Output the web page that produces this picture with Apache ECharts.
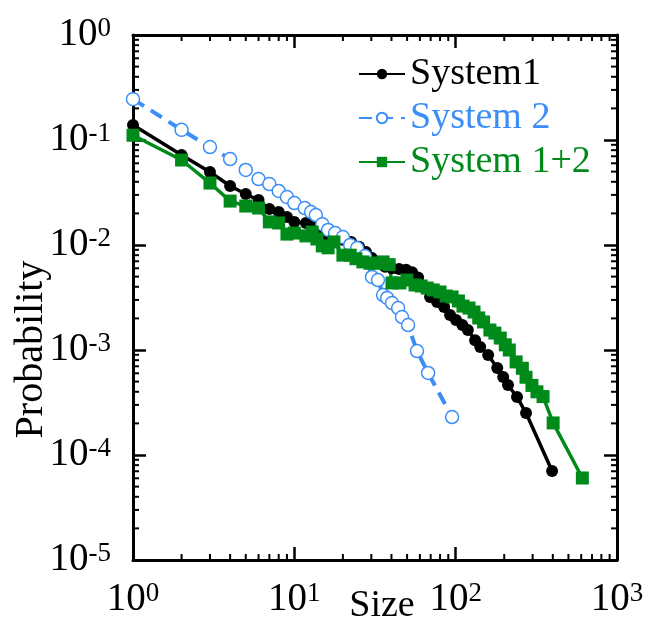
<!DOCTYPE html>
<html>
<head>
<meta charset="utf-8">
<script src="https://cdn.jsdelivr.net/npm/echarts@6/dist/echarts.min.js"></script>
<style>
  html, body { margin: 0; padding: 0; background: #fff; }
  #chart { width: 651px; height: 630px; }
</style>
</head>
<body>
<div id="chart"></div>
<script>
// Size distributions (log-log)
const sys1X = [1, 2, 3, 4, 5, 6, 7, 8, 9, 10, 11.8, 13.1, 14.4, 15.9, 17.9, 20.0, 22.5, 25.2, 27.8, 30.3, 33.5, 36.5, 40.3, 44.6, 49.3, 53.7, 58.5, 63.7, 69.4, 76.7, 84.8, 92.3, 100.5, 110, 119, 132, 142, 159, 181, 197, 211, 240, 273, 396];
const sys1Y = [0.139, 0.072, 0.0496, 0.0365, 0.0306, 0.0268, 0.022, 0.0206, 0.0185, 0.0166, 0.0162, 0.0152, 0.013, 0.0119, 0.0114, 0.0112, 0.0107, 0.0096, 0.0086, 0.0075, 0.0067, 0.0062, 0.006, 0.0059, 0.0058, 0.0055, 0.0049, 0.004, 0.0032, 0.00287, 0.00257, 0.00215, 0.00193, 0.00173, 0.00155, 0.00124, 0.00107, 0.000896, 0.000674, 0.000553, 0.000464, 0.000357, 0.000251, 0.0000704];

const sys2X = [1, 2, 3, 4, 5, 6, 7, 8, 9, 10, 11.6, 12.7, 13.6, 14.9, 16.2, 17.9, 20.0, 22.2, 24.5, 27.4, 30.3, 33.0, 35.5, 37.6, 40.3, 44.0, 46.5, 50.7, 57.6, 67.5, 95];
const sys2Y = [0.245, 0.125, 0.0857, 0.0659, 0.0518, 0.0425, 0.0381, 0.0327, 0.0286, 0.0251, 0.0225, 0.0206, 0.0193, 0.0158, 0.0139, 0.013, 0.0119, 0.01, 0.00936, 0.00785, 0.00496, 0.00464, 0.00334, 0.00313, 0.0028, 0.00251, 0.00206, 0.00173, 0.000978, 0.000604, 0.00023];

const sys12X = [1, 2, 3, 4, 5, 6, 7, 8, 9, 10, 11.8, 12.9, 13.8, 14.9, 16.2, 17.6, 20.0, 22.2, 24.1, 26.6, 29.4, 32.5, 35.5, 38.7, 40.3, 45.2, 49.9, 56.0, 61.1, 66.6, 72.6, 80.0, 87.3, 95.0, 104, 111, 121, 130, 139, 149, 163, 175, 189, 203, 215, 237, 259, 273, 297, 319, 348, 402, 610];
const sys12Y = [0.111, 0.0645, 0.0389, 0.0262, 0.0235, 0.0225, 0.0166, 0.0162, 0.0127, 0.013, 0.0122, 0.0133, 0.0114, 0.0098, 0.0094, 0.0107, 0.008, 0.008, 0.0074, 0.0069, 0.0067, 0.0067, 0.0069, 0.0065, 0.00435, 0.00435, 0.00464, 0.00416, 0.00407, 0.00389, 0.00373, 0.00357, 0.00327, 0.0032, 0.00293, 0.00262, 0.00251, 0.0023, 0.00202, 0.00185, 0.00155, 0.00145, 0.0013, 0.00112, 0.001, 0.00077, 0.00067, 0.00055, 0.00046, 0.0004, 0.00036, 0.000202, 0.0000604];

// Axis ranges and minor (2..9) tick positions per decade
const xRange = [1, 1000];
const yRange = [1e-5, 1];
const minorSteps = [2, 3, 4, 5, 6, 7, 8, 9];
const xDecades = [1, 10, 100];
const yDecades = [1e-5, 1e-4, 1e-3, 1e-2, 1e-1];

const FONT = '"Liberation Serif", "Times New Roman", serif';
const BLACK = '#000000';
const BLUE = '#3a8ef6';
const GREEN = '#008a1a';

const pair = (xs, ys) => xs.map((x, i) => [x, ys[i]]);

const xMinor = [];
xDecades.forEach(d => minorSteps.forEach(m => xMinor.push(d * m)));
const yMinor = [];
yDecades.forEach(d => minorSteps.forEach(m => yMinor.push(d * m)));

function powLabel(v) {
  const e = Math.round(Math.log10(v));
  return '{b|10}{s|' + e + '}';
}
const labelRich = {
  b: { fontFamily: FONT, fontSize: 39, color: '#000', verticalAlign: 'bottom' },
  s: { fontFamily: FONT, fontSize: 27, color: '#000', verticalAlign: 'top' }
};

const MINOR_LEN = 6;
const TICK_STYLE = { stroke: '#000', lineWidth: 2 };

function xMinorTicks(params, api) {
  const v = api.value(0);
  const b = api.coord([v, yRange[0]]);
  const t = api.coord([v, yRange[1]]);
  return {
    type: 'group',
    children: [
      { type: 'line', shape: { x1: b[0], y1: b[1], x2: b[0], y2: b[1] - MINOR_LEN }, style: TICK_STYLE },
      { type: 'line', shape: { x1: t[0], y1: t[1], x2: t[0], y2: t[1] + MINOR_LEN }, style: TICK_STYLE }
    ]
  };
}
function yMinorTicks(params, api) {
  const v = api.value(1);
  const l = api.coord([xRange[0], v]);
  const r = api.coord([xRange[1], v]);
  return {
    type: 'group',
    children: [
      { type: 'line', shape: { x1: l[0], y1: l[1], x2: l[0] + MINOR_LEN, y2: l[1] }, style: TICK_STYLE },
      { type: 'line', shape: { x1: r[0], y1: r[1], x2: r[0] - MINOR_LEN, y2: r[1] }, style: TICK_STYLE }
    ]
  };
}

const frameAxis = {
  type: 'log',
  logBase: 10,
  axisLine: { show: true, onZero: false, lineStyle: { color: '#000', width: 3 } },
  axisTick: { show: true, inside: true, length: 13, lineStyle: { color: '#000', width: 2.5 } },
  splitLine: { show: false },
  minorTick: { show: false }
};

const chart = echarts.init(document.getElementById('chart'), null, { renderer: 'canvas' });
chart.setOption({
  animation: false,
  backgroundColor: '#fff',
  grid: { left: 133, right: 34, top: 35, bottom: 70, containLabel: false, outerBoundsMode: 'none' },
  legend: {
    orient: 'vertical',
    left: 353,
    top: 50,
    itemGap: 6,
    itemWidth: 46,
    itemHeight: 13,
    textStyle: { fontFamily: FONT, fontSize: 38 },
    data: [
      { name: 'System1', textStyle: { color: BLACK } },
      { name: 'System 2', textStyle: { color: BLUE } },
      { name: 'System 1+2', textStyle: { color: GREEN } }
    ]
  },
  xAxis: [
    Object.assign({}, frameAxis, {
      position: 'bottom',
      min: xRange[0], max: xRange[1],
      name: 'Size',
      nameLocation: 'middle',
      nameGap: 27,
      nameMoveOverlap: false,
      nameTextStyle: { fontFamily: FONT, fontSize: 38, color: '#000', padding: [0, 0, 0, 14] },
      axisLabel: { margin: 20, formatter: powLabel, rich: labelRich }
    }),
    Object.assign({}, frameAxis, {
      position: 'top',
      min: xRange[0], max: xRange[1],
      axisLabel: { show: false }
    })
  ],
  yAxis: [
    Object.assign({}, frameAxis, {
      position: 'left',
      min: yRange[0], max: yRange[1],
      name: 'Probability',
      nameLocation: 'middle',
      nameRotate: 90,
      nameGap: 82,
      nameMoveOverlap: false,
      nameTextStyle: { fontFamily: FONT, fontSize: 40, color: '#000', padding: [0, 104, 0, 0] },
      axisLabel: { margin: 22, formatter: powLabel, rich: labelRich }
    }),
    Object.assign({}, frameAxis, {
      position: 'right',
      min: yRange[0], max: yRange[1],
      axisLabel: { show: false }
    })
  ],
  series: [
    {
      type: 'custom', name: 'xMinor', silent: true,
      renderItem: xMinorTicks,
      data: xMinor.map(v => [v, yRange[0]])
    },
    {
      type: 'custom', name: 'yMinor', silent: true,
      renderItem: yMinorTicks,
      data: yMinor.map(v => [xRange[0], v])
    },
    {
      name: 'System1', type: 'line',
      data: pair(sys1X, sys1Y),
      symbol: 'circle', symbolSize: 12,
      lineStyle: { color: BLACK, width: 3.5 },
      itemStyle: { color: BLACK }
    },
    {
      name: 'System 2', type: 'line',
      data: pair(sys2X, sys2Y),
      symbol: 'circle', symbolSize: 13,
      lineStyle: { color: BLUE, width: 4, type: [13, 8] },
      itemStyle: { color: '#fff', borderColor: BLUE, borderWidth: 1.5 }
    },
    {
      name: 'System 1+2', type: 'line',
      data: pair(sys12X, sys12Y),
      symbol: 'rect', symbolSize: 13,
      lineStyle: { color: GREEN, width: 3.5 },
      itemStyle: { color: GREEN }
    }
  ]
});
</script>
</body>
</html>
